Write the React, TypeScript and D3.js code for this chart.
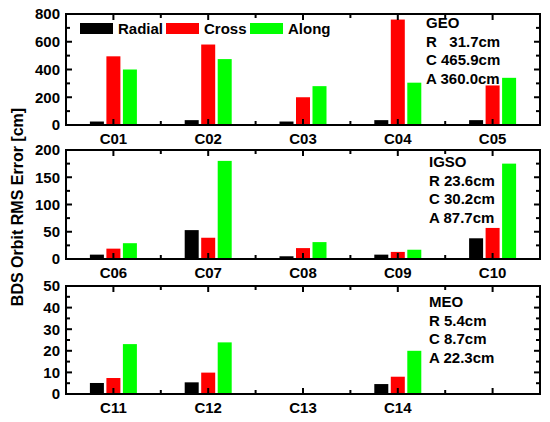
import * as d3 from 'd3';

// satellites per orbit type
const geoSats = ['C01', 'C02', 'C03', 'C04', 'C05'];
const igsoSats = ['C06', 'C07', 'C08', 'C09', 'C10'];
const meoSats = ['C11', 'C12', 'C13', 'C14', ''];

// RMS values [cm]
const geoRadial = [25, 35, 25, 35, 35];
const geoCross = [495, 580, 200, 760, 285];
const geoAlong = [400, 475, 280, 305, 340];

const igsoRadial = [8, 53, 5, 8, 38];
const igsoCross = [19, 39, 20, 13, 57];
const igsoAlong = [29, 180, 31, 17, 175];

const meoRadial = [5.1, 5.4, null, 4.6, null];
const meoCross = [7.4, 9.9, null, 8.0, null];
const meoAlong = [23.1, 23.9, null, 20.0, null];

const geoStats = ['GEO', 'R   31.7cm', 'C 465.9cm', 'A 360.0cm'];
const igsoStats = ['IGSO', 'R 23.6cm', 'C 30.2cm', 'A 87.7cm'];
const meoStats = ['MEO', 'R 5.4cm', 'C 8.7cm', 'A 22.3cm'];

const seriesNames = ['Radial', 'Cross', 'Along'];
const colors = ['#000000', '#ff0000', '#00ff00'];

const W = 550;
const H = 422;
const left = 66;
const right = 540;
const font = "'Liberation Sans', Arial, sans-serif";

type PanelProps = {
  sats: string[];
  series: (number | null)[][];
  top: number;
  bottom: number;
  max: number;
  major: number;
  stats: string[];
  statsX: number;
  statsY: number;
  legend?: boolean;
};

function Panel({ sats, series, top, bottom, max, major, stats, statsX, statsY, legend }: PanelProps) {
  const x = d3.scaleBand().domain(sats.map((_, i) => String(i))).range([left, right]);
  const y = d3.scaleLinear().domain([0, max]).range([bottom, top]);
  const majors = d3.range(0, max + 0.001, major);
  const minors = d3.range(major / 2, max, major);
  const bw = 14;
  const offsets = [-16.5, 0, 16.5];
  const centers = sats.map((_, i) => (x(String(i)) || 0) + x.bandwidth() / 2);
  const bounds = d3.range(1, sats.length).map((i) => x(String(i)) || 0);

  return (
    <g>
      {series.map((vals, s) =>
        vals.map((v, i) =>
          v == null ? null : (
            <rect
              key={`${s}-${i}`}
              x={centers[i] + offsets[s] - bw / 2}
              y={y(v)}
              width={bw}
              height={bottom - y(v)}
              fill={colors[s]}
            />
          )
        )
      )}
      {/* y ticks, both sides inward */}
      {majors.map((t) => (
        <g key={`ym${t}`}>
          <line x1={left} x2={left + 6} y1={y(t)} y2={y(t)} stroke="#000" strokeWidth={2} />
          <line x1={right} x2={right - 6} y1={y(t)} y2={y(t)} stroke="#000" strokeWidth={2} />
          <text
            x={60}
            y={y(t)}
            dy="0.36em"
            textAnchor="end"
            fontFamily={font}
            fontWeight="bold"
            fontSize={15}
          >
            {t}
          </text>
        </g>
      ))}
      {minors.map((t) => (
        <g key={`yn${t}`}>
          <line x1={left} x2={left + 4} y1={y(t)} y2={y(t)} stroke="#000" strokeWidth={2} />
          <line x1={right} x2={right - 4} y1={y(t)} y2={y(t)} stroke="#000" strokeWidth={2} />
        </g>
      ))}
      {/* x ticks, top and bottom inward */}
      {centers.map((c, i) => (
        <g key={`xm${i}`}>
          <line x1={c} x2={c} y1={bottom} y2={bottom - 6} stroke="#000" strokeWidth={2} />
          <line x1={c} x2={c} y1={top} y2={top + 6} stroke="#000" strokeWidth={2} />
          <text
            x={c}
            y={bottom + 19}
            textAnchor="middle"
            fontFamily={font}
            fontWeight="bold"
            fontSize={15}
          >
            {sats[i]}
          </text>
        </g>
      ))}
      {bounds.map((b, i) => (
        <g key={`xn${i}`}>
          <line x1={b} x2={b} y1={bottom} y2={bottom - 4} stroke="#000" strokeWidth={2} />
          <line x1={b} x2={b} y1={top} y2={top + 4} stroke="#000" strokeWidth={2} />
        </g>
      ))}
      <rect x={left} y={top} width={right - left} height={bottom - top} fill="none" stroke="#000" strokeWidth={2} />
      {stats.map((s, i) => (
        <text
          key={s}
          x={statsX}
          y={statsY + i * 18.5}
          fontFamily={font}
          fontWeight="bold"
          fontSize={15}
          style={{ whiteSpace: 'pre' }}
        >
          {s}
        </text>
      ))}
      {legend &&
        seriesNames.map((n, i) => {
          const lx = [80, 166, 250][i];
          return (
            <g key={n}>
              <rect x={lx} y={23} width={33} height={11} fill={colors[i]} />
              <text x={lx + 38} y={34} fontFamily={font} fontWeight="bold" fontSize={15}>
                {n}
              </text>
            </g>
          );
        })}
    </g>
  );
}

export default function App() {
  return (
    <svg
      width={W}
      height={H}
      style={{ position: 'absolute', left: 0, top: 0, background: '#fff' }}
    >
      <Panel
        sats={geoSats}
        series={[geoRadial, geoCross, geoAlong]}
        top={14}
        bottom={125}
        max={800}
        major={200}
        stats={geoStats}
        statsX={426}
        statsY={28}
        legend
      />
      <Panel
        sats={igsoSats}
        series={[igsoRadial, igsoCross, igsoAlong]}
        top={150}
        bottom={259}
        max={200}
        major={50}
        stats={igsoStats}
        statsX={429}
        statsY={167}
      />
      <Panel
        sats={meoSats}
        series={[meoRadial, meoCross, meoAlong]}
        top={286}
        bottom={394}
        max={50}
        major={10}
        stats={meoStats}
        statsX={429}
        statsY={307}
      />
      <text
        transform="translate(23,207) rotate(-90)"
        textAnchor="middle"
        fontFamily={font}
        fontWeight="bold"
        fontSize={16}
      >
        BDS Orbit RMS Error [cm]
      </text>
    </svg>
  );
}
